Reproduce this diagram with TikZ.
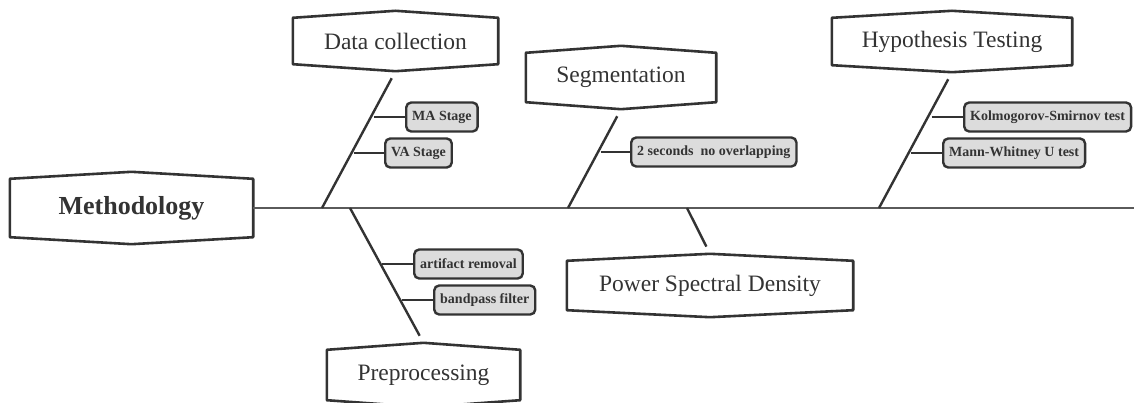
\documentclass[tikz,border=0pt]{standalone}
\usepackage{fontspec}
\setmainfont{Liberation Serif}
\usetikzlibrary{calc}

\definecolor{ink}{HTML}{333333}
\definecolor{leafgray}{HTML}{DCDCDC}
\definecolor{spinegray}{HTML}{5A5A5A}

\begin{document}
\begin{tikzpicture}[x=1pt, y=-1pt,
    head/.style={inner sep=0pt, text=ink, font=\fontsize{23.5}{28}\selectfont},
    frame/.style={draw=ink, line width=2.6pt, line join=round},
    leaf/.style={draw=ink, line width=2.4pt, fill=leafgray, rounded corners=5pt,
                 inner xsep=6pt, minimum height=29pt, anchor=west, text=ink,
                 font=\bfseries\fontsize{14}{16}\selectfont},
    bone/.style={draw=ink, line width=2.4pt, shorten >=8pt},
    twig/.style={draw=ink, line width=2pt},
    spine/.style={draw=spinegray, line width=1.6pt}]

    \useasboundingbox (0,0) rectangle (1134,403);

    % heads of the fishbone
    \node[head, minimum width=243, minimum height=58,
          font=\bfseries\fontsize{26}{30}\selectfont] (meth) at (131.5,208) {Methodology};
    \node[head, minimum width=205, minimum height=46] (data) at (395.5,41) {Data collection};
    \node[head, minimum width=190, minimum height=49] (seg) at (621,77.5) {Segmentation};
    \node[head, minimum width=240, minimum height=47] (hyp) at (952,41.5) {Hypothesis Testing};
    \node[head, minimum width=193, minimum height=50] (prep) at (423.5,375) {Preprocessing};
    \node[head, minimum width=286, minimum height=49] (psd) at (710,285.5) {Power Spectral Density};

    \foreach \n in {meth,data,seg,hyp,prep,psd}
        \draw[frame] (\n.north west) -- ([yshift=7pt]\n.north) -- (\n.north east)
            -- (\n.south east) -- ([yshift=-7pt]\n.south) -- (\n.south west) -- cycle;

    % spine and bones
    \coordinate (tail) at (1134,208);
    \coordinate (jd) at (322,208);
    \coordinate (jp) at (350,208);
    \coordinate (js) at (568,208);
    \coordinate (jq) at (687,208);
    \coordinate (jh) at (879,208);

    \draw[spine] (meth.east) -- (tail);
    \draw[bone] (jd) -- ([yshift=-7pt]data.south);
    \draw[bone] (js) -- ([yshift=-7pt]seg.south);
    \draw[bone] (jh) -- ([yshift=-7pt]hyp.south);
    \draw[bone] (jp) -- ([yshift=7pt]prep.north);
    \draw[bone] (jq) -- ([yshift=7pt]psd.north);

    % leaves
    \node[leaf] (ma) at (405,117) {MA Stage};
    \node[leaf] (va) at (384,153) {VA Stage};
    \node[leaf] (art) at (413,264) {artifact removal};
    \node[leaf] (band) at (433,300) {bandpass filter};
    \node[leaf] (nov) at (630,152) {2 seconds\ \ no overlapping};
    \node[leaf] (ks) at (963,117) {Kolmogorov-Smirnov test};
    \node[leaf] (mw) at (942,153) {Mann-Whitney U test};

    \coordinate (kma) at (374,117);
    \coordinate (kva) at (353.5,153);
    \coordinate (kart) at (381.5,264);
    \coordinate (kband) at (402,300);
    \coordinate (knov) at (600.5,152);
    \coordinate (kks) at (931.5,117);
    \coordinate (kmw) at (911,153);

    \draw[twig] (kma) -- (ma.west);
    \draw[twig] (kva) -- (va.west);
    \draw[twig] (kart) -- (art.west);
    \draw[twig] (kband) -- (band.west);
    \draw[twig] (knov) -- (nov.west);
    \draw[twig] (kks) -- (ks.west);
    \draw[twig] (kmw) -- (mw.west);
\end{tikzpicture}
\end{document}
